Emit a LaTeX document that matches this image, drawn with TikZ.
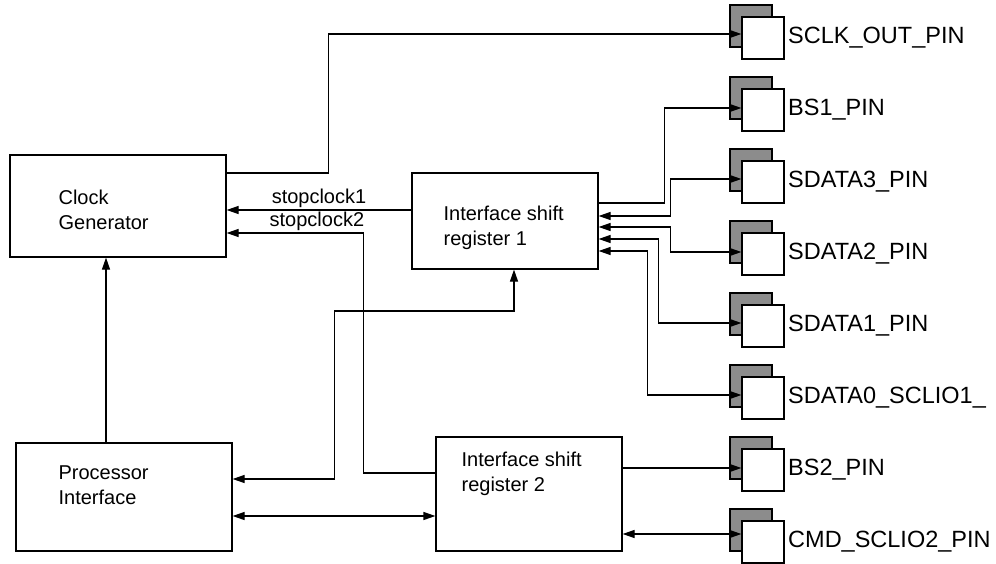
\documentclass[tikz,border=0pt]{standalone}
\usepackage{fontspec}
\setmainfont{Liberation Sans}
\usetikzlibrary{positioning,arrows.meta,shadows}

\begin{document}
\begin{tikzpicture}[
    x=1pt, y=-1pt,
    line width=1.2pt,
    >={Triangle[length=12pt, width=8pt]},
    block/.style={draw, inner sep=0pt},
    blocktext/.style={anchor=west, align=left, inner sep=0pt, font=\fontsize{20}{25}\selectfont},
    sig/.style={font=\fontsize{20}{24}\selectfont, inner sep=2pt},
    pinbox/.style={draw, fill=white, minimum size=42pt, inner sep=0pt,
      general shadow={shadow xshift=-12pt, shadow yshift=12pt, fill=black!45, draw=black}},
    pinname/.style={font=\fontsize{23.5}{28}\selectfont, inner sep=0pt}
  ]
  \useasboundingbox (0,0) rectangle (996,564);

  \node[block, minimum width=216pt, minimum height=102pt] (cg) at (118,206) {};
  \node[blocktext] (cg-txt) at (58,210) {Clock\\Generator};
  \node[block, minimum width=216pt, minimum height=108pt] (pi) at (124,497) {};
  \node[blocktext] (pi-txt) at (58,485.5) {Processor\\Interface};
  \node[block, minimum width=186pt, minimum height=96pt] (isr1) at (505,221) {};
  \node[blocktext] (isr1-txt) at (443,227.5) {Interface shift\\register 1};
  \node[block, minimum width=186pt, minimum height=114pt] (isr2) at (529,494) {};
  \node[blocktext] (isr2-txt) at (461,474) {Interface shift\\register 2};

  \node[pinbox] (sclk) at (763,38) {};
  \node[pinname, right=3pt of sclk] (sclk-lbl) {SCLK\_OUT\_PIN};
  \node[pinbox] (bs1) at (763,110) {};
  \node[pinname, right=3pt of bs1] (bs1-lbl) {BS1\_PIN};
  \node[pinbox] (sd3) at (763,182) {};
  \node[pinname, right=3pt of sd3] (sd3-lbl) {SDATA3\_PIN};
  \node[pinbox] (sd2) at (763,254) {};
  \node[pinname, right=3pt of sd2] (sd2-lbl) {SDATA2\_PIN};
  \node[pinbox] (sd1) at (763,326) {};
  \node[pinname, right=3pt of sd1] (sd1-lbl) {SDATA1\_PIN};
  \node[pinbox] (sd0) at (763,398) {};
  \node[pinname, right=3pt of sd0] (sd0-lbl) {SDATA0\_SCLIO1\_};
  \node[pinbox] (bs2) at (763,470) {};
  \node[pinname, right=3pt of bs2] (bs2-lbl) {BS2\_PIN};
  \node[pinbox] (cmd) at (763,542) {};
  \node[pinname, right=3pt of cmd] (cmd-lbl) {CMD\_SCLIO2\_PIN};

  \coordinate (sclk-in) at ([yshift=4pt]sclk.west);
  \coordinate (bs1-in) at ([yshift=2pt]bs1.west);
  \coordinate (sd3-in) at ([yshift=3pt]sd3.west);
  \coordinate (sd2-in) at ([yshift=2pt]sd2.west);
  \coordinate (sd1-in) at ([yshift=3pt]sd1.west);
  \coordinate (sd0-in) at ([yshift=3pt]sd0.west);
  \coordinate (bs2-in) at ([yshift=2pt]bs2.west);
  \coordinate (cmd-in) at ([yshift=8pt]cmd.west);

  \draw[->] ([yshift=33pt]cg.east) -- ++(102,0) |- (sclk-in);
  \coordinate (sc1) at ([yshift=11pt]isr1.west);
  \draw[->] (sc1) -- node[sig, above] (sc1-lbl) {stopclock1} (sc1 -| cg.east);
  \draw[->] ([yshift=21pt]isr2.west) -- ++(-72,0) |- node[sig, above, pos=0.67] (sc2-lbl) {stopclock2} ([yshift=-27pt]cg.east);
  \coordinate (pi-up) at ([xshift=-18pt]pi.north);
  \draw[->] (pi-up) -- (pi-up |- cg.south);
  \draw[<->] ([yshift=18pt]pi.east) -- ++(102,0) -- ++(0,-168) -| ([xshift=9pt]isr1.south);
  \coordinate (pi-bus) at ([yshift=-19pt]pi.east);
  \draw[<->] (pi-bus) -- (pi-bus -| isr2.west);

  \draw[->] ([yshift=18pt]isr1.east) -- ++(66,0) |- (bs1-in);
  \draw[<->] ([yshift=5pt]isr1.east) -- ++(72,0) |- (sd3-in);
  \draw[<->] ([yshift=-6pt]isr1.east) -- ++(72,0) |- (sd2-in);
  \draw[<->] ([yshift=-18pt]isr1.east) -- ++(60,0) |- (sd1-in);
  \draw[<->] ([yshift=-30pt]isr1.east) -- ++(49,0) |- (sd0-in);
  \draw[->] (bs2-in -| isr2.east) -- (bs2-in);
  \draw[<->] (cmd-in -| isr2.east) -- (cmd-in);
\end{tikzpicture}
\end{document}
